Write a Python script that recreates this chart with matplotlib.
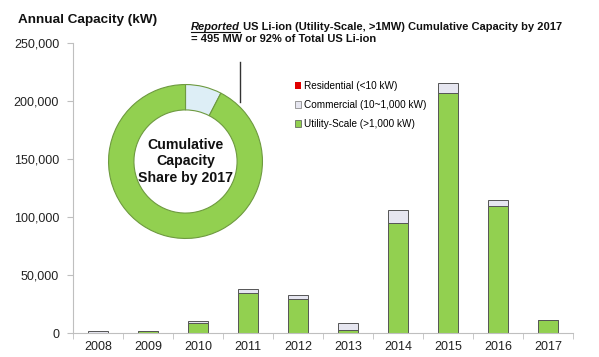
import matplotlib.pyplot as plt
import numpy as np
from matplotlib.patches import Patch
from matplotlib.lines import Line2D
from matplotlib.ticker import FuncFormatter

plt.rcParams['font.family'] = ['Liberation Sans', 'DejaVu Sans']

# Daten
jahre = ['2008', '2009', '2010', '2011', '2012', '2013', '2014', '2015', '2016', '2017']
residential = [0, 0, 0, 100, 100, 50, 100, 100, 100, 0]
commercial = [1100, 300, 2000, 3600, 3400, 6600, 11100, 9100, 4800, 0]
utility = [300, 1800, 8300, 34200, 29300, 2300, 94800, 206600, 109700, 11200]

# Anteile im Ring (%)
ring_labels = ['Commercial', 'Utility-Scale']
ring_share = [7.6, 92.4]

gruen = '#92D050'
grau = '#E6E6F0'
rot = '#E00000'

fig = plt.figure(figsize=(5.99, 3.57), dpi=100)
ax = fig.add_axes([73/599, 1-333/357, 500/599, 290/357])

x = np.arange(len(jahre))
u = np.array(utility)
c = np.array(commercial)
r = np.array(residential)
ax.bar(x, u, width=0.4, color=gruen, edgecolor='#555555', linewidth=0.7)
ax.bar(x, c, bottom=u, width=0.4, color=grau, edgecolor='#555555', linewidth=0.7)
ax.bar(x, r, bottom=u + c, width=0.4, color=rot, edgecolor='none')

ax.set_xlim(-0.5, 9.5)
ax.set_ylim(0, 250000)
ax.set_yticks(np.arange(0, 250001, 50000))
ax.yaxis.set_major_formatter(FuncFormatter(lambda v, p: f'{v:,.0f}'))
ax.set_xticks(x)
ax.set_xticklabels(jahre)
ax.set_xticks(np.arange(-0.5, 10, 1), minor=True)
ax.tick_params(axis='x', which='major', length=0, labelsize=9, pad=6, colors='#222222')
ax.tick_params(axis='x', which='minor', length=4, color='#BFBFBF')
ax.tick_params(axis='y', length=4, color='#BFBFBF', labelsize=9, pad=6, labelcolor='#222222')
for s in ['top', 'right']:
    ax.spines[s].set_visible(False)
for s in ['left', 'bottom']:
    ax.spines[s].set_color('#BFBFBF')

# Legende
handles = [Patch(facecolor=rot, edgecolor='none', label='Residential (<10 kW)'),
           Patch(facecolor=grau, edgecolor='#777777', linewidth=0.5, label='Commercial (10~1,000 kW)'),
           Patch(facecolor=gruen, edgecolor='#555555', linewidth=0.5, label='Utility-Scale (>1,000 kW)')]
fig.legend(handles=handles, loc='upper left', bbox_to_anchor=(295/599, 1-81/357),
           frameon=False, fontsize=7.2, handlelength=0.55, handleheight=0.6,
           handletextpad=0.3, labelspacing=0.9, borderpad=0, borderaxespad=0)

# Ring-Diagramm
rad = 78.5
cx, cy = 185.5, 161.5
ax2 = fig.add_axes([(cx-rad)/599, 1-(cy+rad)/357, 2*rad/599, 2*rad/357])
ax2.pie(ring_share, colors=['#DDEEF6', gruen], startangle=90, counterclock=False,
        radius=1, wedgeprops=dict(width=0.33, edgecolor='#6E9A40', linewidth=0.8))
ax2.set_xlim(-1.02, 1.02)
ax2.set_ylim(-1.02, 1.02)
ax2.text(0, 0, 'Cumulative\nCapacity\nShare by 2017', ha='center', va='center',
         fontsize=10.2, fontweight='bold', linespacing=1.2, color='#111111')

# Titel
fig.text(18/599, 1-20/357, 'Annual Capacity (kW)', fontsize=9.7, fontweight='bold',
         va='center', ha='left', color='#111111')

# Hinweistext
t1 = fig.text(191/599, 1-30.5/357, 'Reported', fontsize=8, fontweight='bold', style='italic',
              va='baseline', ha='left', color='#111111')
fig.canvas.draw()
bb = t1.get_window_extent()
fig.text(bb.x1/fig.bbox.width, 1-30.5/357,
         ' US Li-ion (Utility-Scale, >1MW) Cumulative Capacity by 2017',
         fontsize=8, fontweight='bold', va='baseline', ha='left', color='#111111')
fig.text(191/599, 1-42/357, '= 495 MW or 92% of Total US Li-ion', fontsize=8,
         fontweight='bold', va='baseline', ha='left', color='#111111')
fig.add_artist(Line2D([bb.x0/fig.bbox.width, bb.x1/fig.bbox.width],
                      [1-32/357]*2, color='#111111', linewidth=0.8))
fig.add_artist(Line2D([240/599, 240/599], [1-62/357, 1-102/357], color='#333333', linewidth=1))

fig.savefig('out.png', dpi=100)
